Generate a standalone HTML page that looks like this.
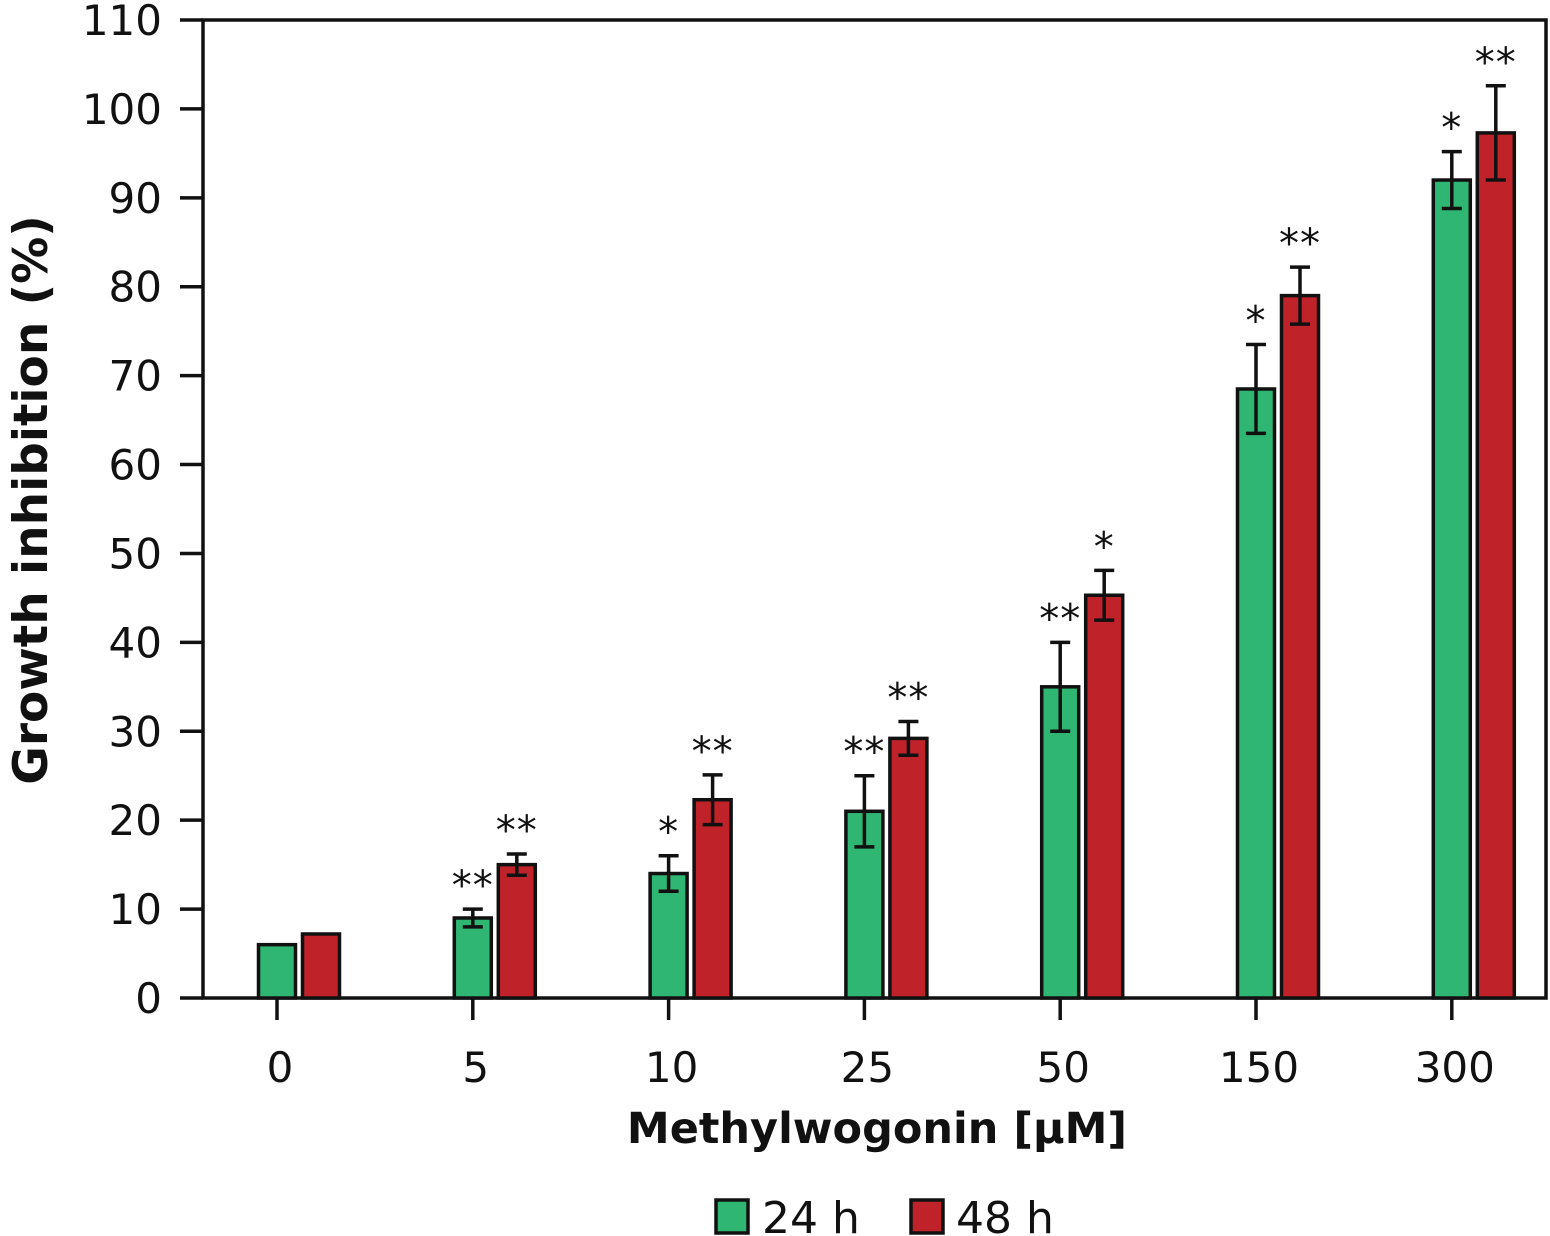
<!DOCTYPE html>
<html><head><meta charset="utf-8"><style>
html,body{margin:0;padding:0;background:#fff}
svg{display:block;font-family:"DejaVu Sans","Liberation Sans",sans-serif}
</style></head><body>
<svg id="chart" width="1550" height="1236" viewBox="0 0 1550 1236" xmlns="http://www.w3.org/2000/svg">
<g id="axes"></g>
<g id="bars"></g>
<text transform="translate(47,500) rotate(-90)" text-anchor="middle" font-size="47" font-weight="bold" fill="#111">Growth inhibition (%)</text>
<text x="877" y="1143" text-anchor="middle" font-size="43" font-weight="bold" fill="#111">Methylwogonin [µM]</text>
<g>
<rect x="716" y="1200" width="32" height="33" fill="#2fb673" stroke="#111" stroke-width="3.5"/>
<text x="762" y="1233" font-size="44" fill="#111">24 h</text>
<rect x="911" y="1200" width="32" height="33" fill="#c0222a" stroke="#111" stroke-width="3.5"/>
<text x="956" y="1233" font-size="44" fill="#111">48 h</text>
</g>
</svg>
<script>
const categories = ["0","5","10","25","50","150","300"];
const values24 = [6, 9, 14, 21, 35, 68.5, 92];
const values48 = [7.2, 15, 22.3, 29.2, 45.3, 79, 97.3];
const err24 = [0, 1, 2, 4, 5, 5, 3.2];
const err48 = [0, 1.2, 2.8, 1.9, 2.8, 3.2, 5.3];
const stars24 = ["", "**", "*", "**", "**", "*", "*"];
const stars48 = ["", "**", "**", "**", "*", "**", "**"];
const yTicks = [0,10,20,30,40,50,60,70,80,90,100,110];

const NS = "http://www.w3.org/2000/svg";
const y = v => 998 - v * (978 / 110);
const xc = i => 277 + i * 195.8;
function mk(tag, attrs, parent){const e=document.createElementNS(NS,tag);for(const k in attrs)e.setAttribute(k,attrs[k]);parent.appendChild(e);return e;}
const axes=document.getElementById('axes'), bars=document.getElementById('bars');
let e=mk('rect',{x:203,y:20,width:1343,height:978,fill:'none',stroke:'#111','stroke-width':3.5},axes);


yTicks.forEach(t=>{
  let l=mk('line',{x1:180,x2:203,y1:y(t),y2:y(t),stroke:'#111','stroke-width':3.5},axes);
  
  
  let tx=mk('text',{x:162,y:y(t)+15,'text-anchor':'end','font-size':42,fill:'#111'},axes);
  tx.textContent=t;
  
  
});
categories.forEach((c,i)=>{
  let l=mk('line',{x1:xc(i),x2:xc(i),y1:998,y2:1020,stroke:'#111','stroke-width':3.5},axes);
  
  
  let tx=mk('text',{x:xc(i)+3,y:1082,'text-anchor':'middle','font-size':42,fill:'#111'},axes);
  tx.textContent=c;
  
  
  [[values24,err24,stars24,'#2fb673',0,'24h'],[values48,err48,stars48,'#c0222a',44,'48h']].forEach(s=>{
    const v=s[0][i], er=s[1][i], cx=xc(i)+s[4];
    let r=mk('rect',{x:cx-18.5,y:y(v),width:37,height:998-y(v),fill:s[3],stroke:'#111','stroke-width':3.5},bars);
    
    
    if(er>0){
      let g=mk('path',{d:`M${cx},${y(v+er)}V${y(v-er)}M${cx-10},${y(v+er)}H${cx+10}M${cx-10},${y(v-er)}H${cx+10}`,stroke:'#111','stroke-width':3.5,fill:'none'},bars);
      
      
    }
    if(s[2][i]){
      let st=mk('text',{x:cx,y:y(v+er)-10,'text-anchor':'middle','font-size':40,fill:'#111','letter-spacing':'1'},bars);
      st.textContent=s[2][i];
      
      
    }
  });
});
</script>
</body></html>
